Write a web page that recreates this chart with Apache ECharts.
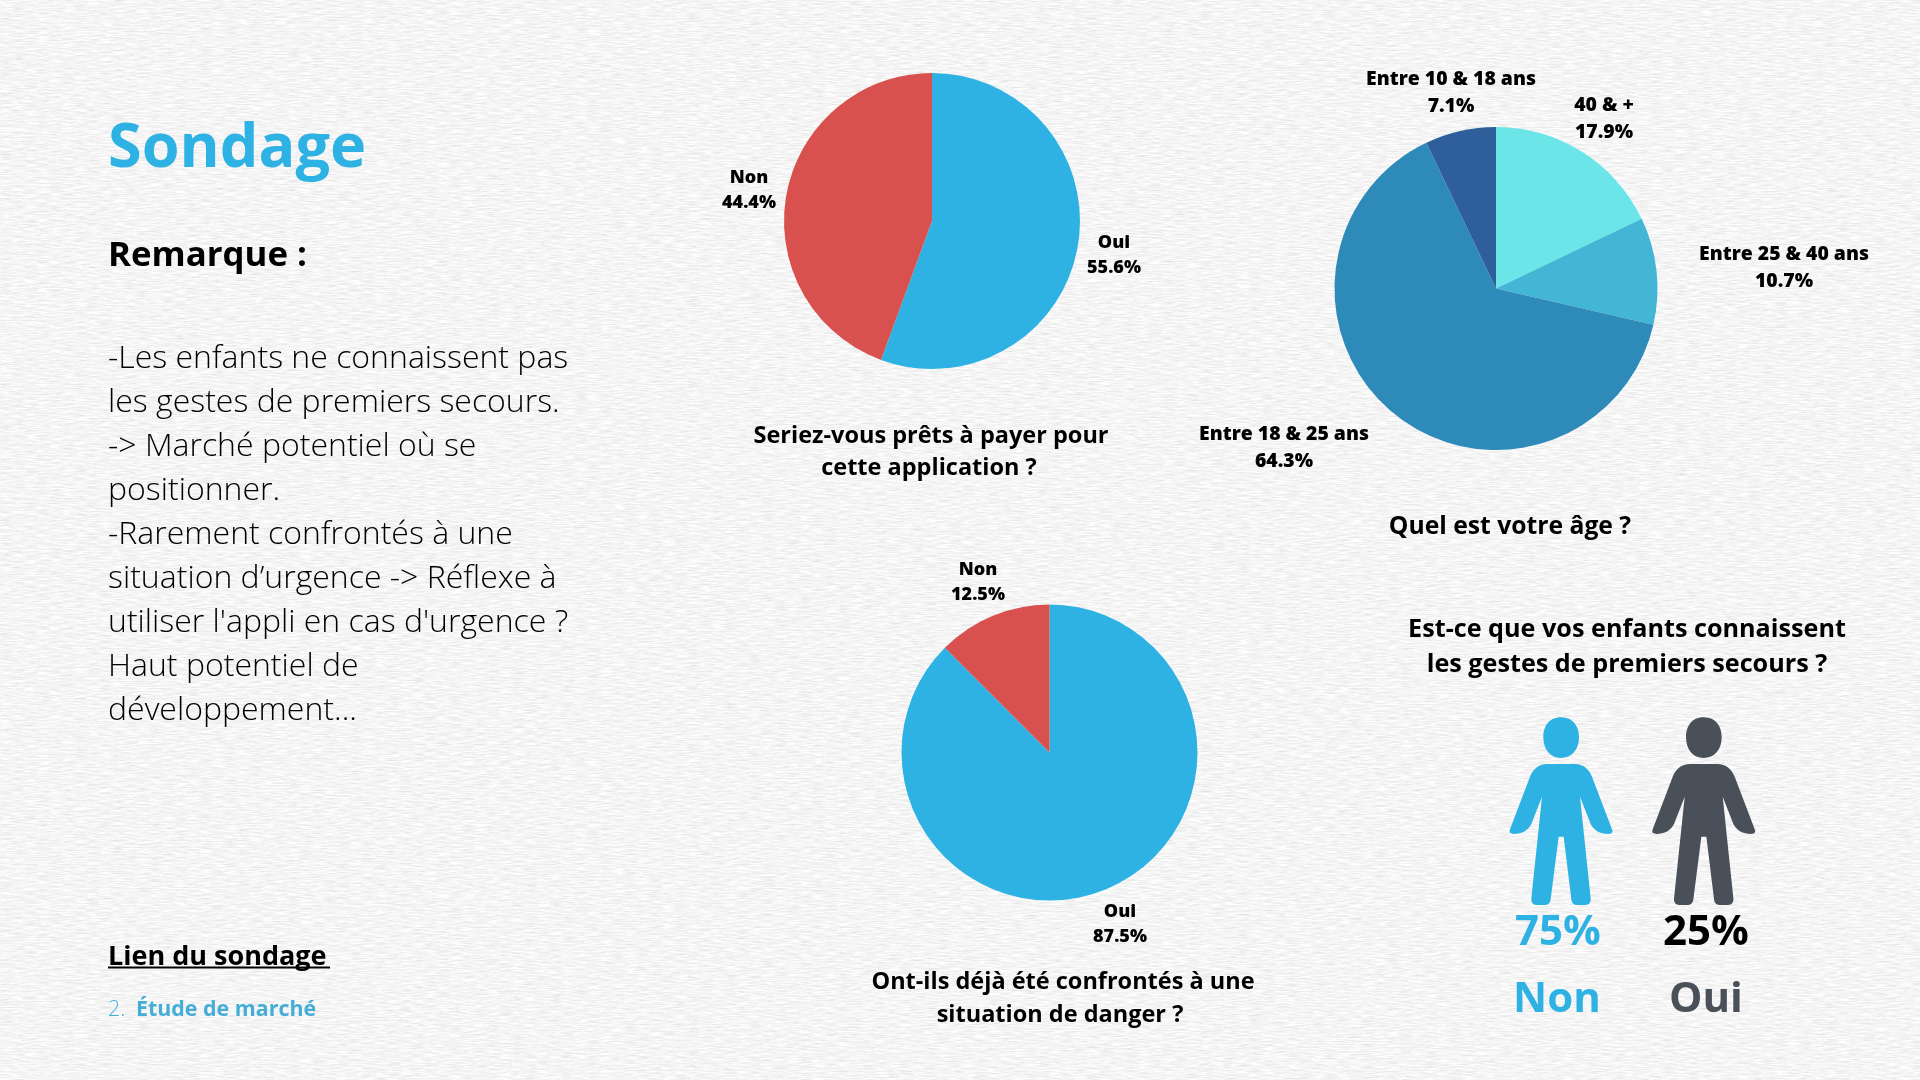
<!DOCTYPE html>
<html><head><meta charset="utf-8">
<style>
html,body{margin:0;padding:0;width:1920px;height:1080px;overflow:hidden;background:#f6f6f6;}
#bg{position:absolute;left:0;top:0;width:1920px;height:1080px;}
#c{position:absolute;left:0;top:0;width:1920px;height:1080px;}
</style>
<script src="https://cdn.jsdelivr.net/npm/echarts@6/dist/echarts.min.js"></script>
</head><body>
<svg id="bg" xmlns="http://www.w3.org/2000/svg" width="1920" height="1080">
<filter id="paper" x="0" y="0" width="100%" height="100%" color-interpolation-filters="sRGB">
<feTurbulence type="fractalNoise" baseFrequency="0.08 0.7" numOctaves="3" seed="7"/>
<feColorMatrix type="matrix" values="0.17 0 0 0 0.875  0.17 0 0 0 0.875  0.17 0 0 0 0.875  0 0 0 0 1"/>
</filter>
<rect width="1920" height="1080" filter="url(#paper)"/>
</svg>
<div id="c"></div>
<script>
// ---- data ----
const payCategories = ['Oui', 'Non'];
const payValues = [55.6, 44.4];
const ageCategories = ['40 & +', 'Entre 25 & 40 ans', 'Entre 18 & 25 ans', 'Entre 10 & 18 ans'];
const ageValues = [17.9, 10.7, 64.3, 7.1];
const dangerCategories = ['Oui', 'Non'];
const dangerValues = [87.5, 12.5];

const paragraphLines = [
  '-Les enfants ne connaissent pas',
  'les gestes de premiers secours.',
  '-> Marché potentiel où se',
  'positionner.',
  '-Rarement confrontés à une',
  'situation d’urgence -> Réflexe à',
  "utiliser l'appli en cas d'urgence ?",
  'Haut potentiel de',
  'développement...'
];

// ---- styling and layout ----
const BLUE = '#2eb2e4', RED = '#d8514e', DARK = '#4a5059';
const AGE_COLORS = ['#6be5e8', '#43b6d6', '#2e8bb9', '#2f5f9a'];
const FF = '"Open Sans"';

function pie(center, radius, cats, vals, colors, labelPos, fs, lh) {
  return {
    type: 'pie', center, radius, startAngle: 90, clockwise: true,
    silent: true, animation: false, avoidLabelOverlap: false,
    itemStyle: { borderWidth: 0 },
    data: cats.map((n, i) => ({ name: n, value: vals[i], itemStyle: { color: colors[i] } })),
    label: {
      show: true, position: 'outside', formatter: p => p.name + '\n' + p.value.toFixed(1) + '%',
      color: '#000', fontFamily: FF, fontWeight: 800, fontSize: fs, lineHeight: lh, align: 'center'
    },
    labelLine: { show: false },
    labelLayout: p => ({ x: labelPos[p.dataIndex][0], y: labelPos[p.dataIndex][1], align: 'center', verticalAlign: 'middle' })
  };
}

function txt(text, x, y, size, weight, fill, align) {
  return { type: 'text', x, y, silent: true,
    style: { text, fontFamily: FF, fontSize: size, fontWeight: weight, fill, align: align || 'center', verticalAlign: 'middle' } };
}

const figurePath = 'M363 112C400 112 417 140 417 172C417 210 395 234 363 234C331 234 310 210 310 172C310 140 326 112 363 112Z' +
  'M322 252L404 252C430 252 447 268 456 290L516 448C521 458 514 462 505 462C480 462 462 452 452 432L420 350' +
  'L452 655C453 668 447 675 436 675L410 675C400 675 395 668 394 658L371 470L356 470L332 658C331 668 326 675 316 675L290 675' +
  'C279 675 273 668 274 655L306 350L274 432C264 452 246 462 221 462C212 462 206 458 210 448L270 290C279 268 296 252 322 252Z';
echarts.graphic.registerShape('figureIcon', echarts.graphic.extendPath(figurePath, {}));

function figure(x, color) {
  return { type: 'figureIcon', x, y: 680, scaleX: 1 / 3, scaleY: 1 / 3, silent: true, style: { fill: color } };
}

const graphics = [
  txt('Sondage', 108, 150, 61.2, 700, BLUE, 'left'),
  txt('Remarque :', 108, 256.5, 34.8, 700, '#000', 'left'),
  txt('Lien du sondage ', 108, 957, 27, 700, '#000', 'left'),
  { type: 'line', silent: true, shape: { x1: 108, y1: 967.5, x2: 330, y2: 967.5 }, style: { stroke: '#000', lineWidth: 2 } },
  txt('2.', 108, 1010, 21.4, 300, '#45b0d8', 'left'),
  txt('Étude de marché', 136, 1010, 21.4, 700, '#45add6', 'left'),
  txt('Seriez-vous prêts à payer pour', 931, 436, 23.5, 700, '#000'),
  txt('cette application ?', 929, 468, 23.5, 700, '#000'),
  txt('Quel est votre âge ?', 1510, 527, 24.7, 700, '#000'),
  txt('Est-ce que vos enfants connaissent', 1627, 630, 25.2, 700, '#000'),
  txt('les gestes de premiers secours ?', 1627, 665, 25.2, 700, '#000'),
  txt('Ont-ils déjà été confrontés à une', 1063, 982, 23.5, 700, '#000'),
  txt('situation de danger ?', 1060, 1015, 23.5, 700, '#000'),
  figure(1440, BLUE),
  figure(1440 + 142.7, DARK),
  txt('75%', 1558, 933, 42, 700, BLUE),
  txt('25%', 1706, 933, 42, 700, '#000'),
  txt('Non', 1557, 1000, 42, 700, BLUE),
  txt('Oui', 1706, 1000, 42, 700, DARK)
].concat(paragraphLines.map((l, i) => txt(l, 108, 359 + i * 44, 32, 300, '#000', 'left')));

const chart = echarts.init(document.getElementById('c'), null, { width: 1920, height: 1080 });
chart.setOption({
  backgroundColor: 'transparent',
  animation: false,
  series: [
    pie([932, 221], 148, payCategories, payValues, [BLUE, RED], [[1114, 255], [749, 190]], 18, 25),
    pie([1496, 288.5], 161.5, ageCategories, ageValues, AGE_COLORS, [[1604, 119], [1784, 268], [1284, 448], [1451, 93]], 19.4, 27),
    pie([1049.5, 752.5], 148, dangerCategories, dangerValues, [BLUE, RED], [[1120, 924], [978, 582]], 18, 25)
  ],
  graphic: { elements: graphics }
});
</script>
</body></html>
